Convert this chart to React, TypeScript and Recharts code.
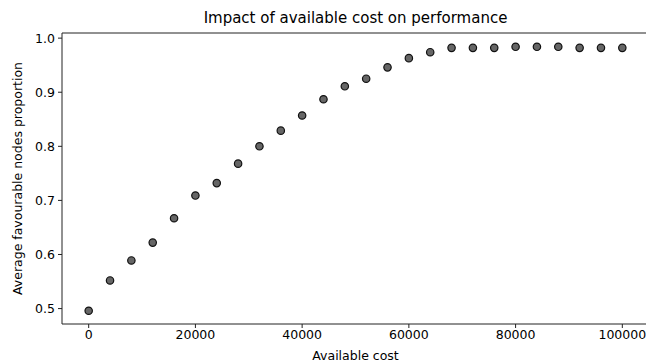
import { ScatterChart, Scatter, XAxis, YAxis, ReferenceLine } from 'recharts'

const costs = [
  0, 4000, 8000, 12000, 16000, 20000, 24000, 28000, 32000, 36000, 40000, 44000, 48000,
  52000, 56000, 60000, 64000, 68000, 72000, 76000, 80000, 84000, 88000, 92000, 96000, 100000,
]
const proportions = [
  0.496, 0.552, 0.589, 0.622, 0.667, 0.709, 0.732, 0.768, 0.8, 0.829, 0.857, 0.887, 0.911,
  0.925, 0.946, 0.963, 0.974, 0.982, 0.982, 0.982, 0.984, 0.984, 0.984, 0.982, 0.982, 0.982,
]
const xTicks = [0, 20000, 40000, 60000, 80000, 100000]
const yTicks = [0.5, 0.6, 0.7, 0.8, 0.9, 1.0]
const yMax = 1.0095

const data = costs.map((c, i) => ({ cost: c, value: proportions[i] }))

const font = 'DejaVu Sans, sans-serif'
const tickStyle = { fontSize: 12.5, fill: '#000', fontFamily: font }

export default function App() {
  return (
    <div style={{ position: 'absolute', left: 0, top: 0, width: 646, height: 362, background: '#fff' }}>
      <div
        style={{
          position: 'absolute',
          left: 62,
          width: 587,
          top: 10,
          textAlign: 'center',
          fontFamily: font,
          fontSize: 15,
          lineHeight: '17px',
          color: '#000',
        }}
      >
        Impact of available cost on performance
      </div>
      <ScatterChart width={646} height={362} margin={{ top: 33, right: -3, bottom: 0, left: 0 }}>
        <XAxis
          type='number'
          dataKey='cost'
          domain={[-5000, 105000]}
          ticks={xTicks}
          height={38}
          tick={tickStyle}
          tickSize={4}
          tickMargin={2}
          stroke='#222'
          label={{ value: 'Available cost', position: 'insideBottom', offset: 2, style: { fontSize: 12.5, fill: '#000', fontFamily: font } }}
        />
        <YAxis
          type='number'
          dataKey='value'
          domain={[0.4715, yMax]}
          ticks={yTicks}
          width={62}
          tick={tickStyle}
          tickSize={4}
          tickMargin={3}
          tickFormatter={(v: number) => v.toFixed(1)}
          stroke='#222'
          label={{
            value: 'Average favourable nodes proportion',
            angle: -90,
            position: 'insideLeft',
            offset: 18,
            style: { textAnchor: 'middle', fontSize: 12.5, fill: '#000', fontFamily: font },
          }}
        />
        <ReferenceLine y={yMax} stroke='#222' strokeWidth={1} />
        <Scatter
          data={data}
          fill='#666'
          isAnimationActive={false}
          shape={(p: any) => <circle cx={p.cx} cy={p.cy} r={3.7} fill='#666' stroke='#111' strokeWidth={1.2} />}
        />
      </ScatterChart>
    </div>
  )
}
